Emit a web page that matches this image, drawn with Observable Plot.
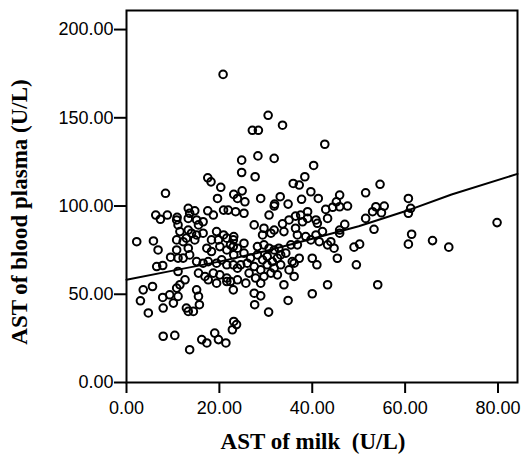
<!DOCTYPE html>
<html><head><meta charset="utf-8">
<script src="https://cdn.jsdelivr.net/npm/d3@7"></script>
<script src="https://cdn.jsdelivr.net/npm/@observablehq/plot@0.6"></script>
<style>
html,body{margin:0;padding:0;background:#fff;}
#chart svg{display:block;}
svg text{white-space:pre;}
</style></head><body><div id="chart"></div>
<script>
// AST of milk (U/L)
const milkAST = [
20.8,30.5,33.6,27.1,28.4,42.7,28.3,31.8,24.8,24.8,27.7,40.3,38.4,35.9,37.2,39.7,41.3,24.9,23.1,23.9,
25.5,28.9,33.1,31.9,34.8,37.7,39,30.7,36.4,42.9,44.4,43.3,40.8,23.5,25.3,37.5,31.8,
45.9,45.2,45.9,47.6,51.5,54.6,60.7,61.2,60.7,53.7,55.5,53,54.9,51.5,79.8,47,45.9,45.9,53.3,61.4,60.7,65.9,69.4,49,50.2,45.4,49.5,54.1,
40,41,37.2,36.1,35,36.1,33.9,43.3,40,34.8,27.5,28.9,27.6,30.6,43.3,44.7,
8.4,17.5,18.2,20.3,19.6,6.3,8.8,10.9,13.3,14.7,13.6,17.5,18.7,20.9,21.9,
7.3,10.8,11.1,13.3,15.1,15.5,16.5,11.5,13.3,14,15.1,16.5,10.8,12.2,12.9,14.7,19.4,20.9,18.3,19.8,21.6,23,
10.8,13.3,13.6,12.2,11.1,17.3,18.3,20.1,21.6,23,15.1,16.5,17.6,19.4,20.5,21.6,23,11.1,15.5,16.9,18.7,20.1,21.6,12.6,17.6,19.4,21.6,23,
2.2,5.8,6.8,6.5,7.8,3.6,5.6,3,4.7,7.8,7.9,9.3,10.1,11.1,10.8,11.5,12.9,14.4,15.1,15.5,15.7,13.3,7.9,10.4,13.6,16.2,17.3,19,19.8,21.4,23.1,23.7,22.8,9.5,
27.5,29.6,29.3,31.1,31.8,33.9,23.1,22.4,23.9,23.1,25.3,28.2,29.6,30.7,31.8,32.8,36.4,36.8,38.6,39.7,41.5,40.8,42.2,44,39,41.1,37.9,35,
25.3,26.7,28.2,29.3,30.3,31.4,32.5,33.2,31.8,30.3,28.9,27.5,26,24.6,23.9,26.4,27.8,29.6,31.1,32.5,23.9,25.7,28.9,22.4,34.3,35.7,33.2,35.4,36.8,33.6
];
// AST of blood plasma (U/L)
const plasmaAST = [
174.6,151.4,145.8,142.9,142.9,135,128.4,127,126,119,116.6,123,116.6,112.8,111.9,108.1,104.3,108.6,106.6,104.3,
102.4,104.3,105.3,101.1,101.1,103.8,96.8,94.9,94.3,98.1,99.3,93,92.1,96.8,95.9,94.9,100,
106.2,102.4,99.6,100,107.5,112.3,104.3,98.7,95.9,99.6,100,96.8,96.2,93,90.6,89.6,86.4,84.6,86.8,84,78.4,80.4,76.7,76.7,78.4,70.4,66.7,55.4,
70.4,66.7,70.4,67.6,63.8,60.1,55.4,55.4,50.3,46.5,50.6,49.1,44.1,39.9,78,76.1,
107.2,116,113.7,110.6,104.3,94.9,94.9,93.6,98.7,97.3,95.9,97.3,94.9,97.7,97.7,
92.5,92.1,89.3,93,92.1,89.3,91.1,85.5,86.4,84.6,83.6,84.6,80.8,79.8,81.8,80.8,85.5,83.6,80.8,80.8,81.8,80.8,
75.1,76.1,72.3,70.5,70.5,76.1,74.2,77,75.1,77,68.5,67.6,68.5,67.6,69.5,66.7,66.7,62.9,62,60.1,62,61,59.2,58.2,58.2,56.3,57.2,52.5,
79.8,80.2,75.1,65.7,66.3,52.5,54.4,46.3,39.4,48.2,42.2,49.7,45,48.8,53.5,55.4,42.2,40.3,52.5,48.8,44.1,40.3,26.2,26.7,18.6,24.3,22.4,28,24.3,22.4,34.6,32.8,29.9,71,
89.3,87.4,83.6,84.6,86.4,85.5,82.7,78,76.1,72.3,78.9,77,78,76.1,75.1,76.1,87.4,83.6,82.7,80.8,79.8,83.6,85.5,79.8,93,90.2,91.1,92.1,
73.3,70.5,72.3,69.5,71.4,68.5,70.5,66.7,64.8,66.7,63.8,65.7,67.6,66.7,64.8,62,59.2,60.1,62,61,58.2,56.3,56.3,57.2,73.3,68.5,72.3,78,78,89.9
];
// fitted curve
const fitX = [0, 10, 20, 30, 40, 50, 60, 70, 84.2];
const fitY = [58.2, 63.4, 68.5, 74.5, 81.5, 88.5, 97, 106.5, 118.2];
const xTicks = [0, 20, 40, 60, 80];
const yTicks = [0, 50, 100, 150, 200];
const xTitle = "AST of milk  (U/L)";
const yTitle = "AST of blood plasma (U/L)";

const points = milkAST.map((x, i) => ({x, y: plasmaAST[i]}));
const fit = fitX.map((x, i) => ({x, y: fitY[i]}));
const fmt = d3.format(".2f");
const titleFont = {fontFamily: "'Liberation Serif', 'Times New Roman', serif", fontWeight: "bold", fontSize: 23, fill: "#000", textAnchor: "middle"};

const chart = Plot.plot({
  width: 521, height: 461,
  marginLeft: 126, marginRight: 4, marginTop: 10, marginBottom: 79,
  style: {fontFamily: "'Liberation Sans', Arial, sans-serif", fontSize: "18px", color: "#000", background: "#fff"},
  x: {domain: [0, 84.2], label: null},
  y: {domain: [0, 210.8], label: null},
  marks: [
    Plot.dot(points, {x: "x", y: "y", r: 3.8, stroke: "#000", strokeWidth: 2, fill: "none"}),
    Plot.line(fit, {x: "x", y: "y", stroke: "#000", strokeWidth: 2}),
    Plot.axisX({ticks: xTicks, tickFormat: fmt, tickSize: 11, tickPadding: 8, strokeWidth: 2, label: null, fontSize: 18}),
    Plot.axisY({ticks: yTicks, tickFormat: fmt, tickSize: 12, tickPadding: 1, strokeWidth: 2, label: null, fontSize: 18}),
    Plot.frame({stroke: "#000", strokeWidth: 2}),
    Plot.text([xTitle], {text: d => d, frameAnchor: "bottom", dx: -9, dy: 66, ...titleFont}),
    Plot.text([yTitle], {text: d => d, frameAnchor: "left", rotate: -90, dx: -106.5, dy: 15.5, ...titleFont})
  ]
});
document.getElementById("chart").appendChild(chart);
</script>
</body></html>
